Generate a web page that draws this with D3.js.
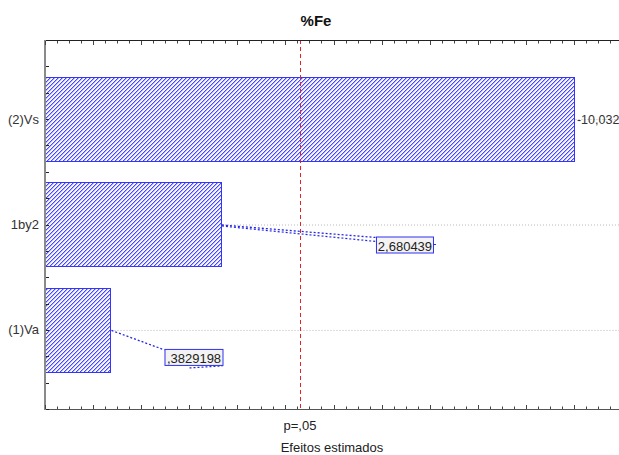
<!DOCTYPE html>
<html>
<head>
<meta charset="utf-8">
<script src="https://cdn.jsdelivr.net/npm/d3@7"></script>
<style>
  html, body { margin: 0; padding: 0; background: #fff; }
  svg { display: block; font-family: "Liberation Sans", Arial, sans-serif; }
</style>
</head>
<body>
<svg id="chart" width="619" height="455"></svg>
<script>
// Standardized effects (Pareto chart), %Fe response
const categories = ["(2)Vs", "1by2", "(1)Va"];
const effects = [-10.032, 2.680439, 0.3829198];
const effectLabels = ["-10,032", "2,680439", ",3829198"];
const pCritical = 4.303;
const pLabel = "p=,05";
const chartTitle = "%Fe";
const xTitle = "Efeitos estimados";

const svg = d3.select("#chart");
const W = 619, H = 455;
const plotLeft = 45, plotRight = 622, plotTop = 40, plotBottom = 409;

const x = d3.scaleLinear().domain([-1, 11]).range([plotLeft, plotRight]);
const y = d3.scaleLinear().domain([-0.75, 2.75]).range([plotTop, plotBottom]);
const barHalf = 0.4;

// Pixel hatch pattern for the bars (diagonal "/" stripes)
const defs = svg.append("defs");
const pat = defs.append("pattern")
  .attr("id", "hatch").attr("patternUnits", "userSpaceOnUse")
  .attr("width", 4).attr("height", 4);
pat.append("rect").attr("width", 4).attr("height", 4).attr("fill", "#f6f6ff");
const hatchPix = [];
for (let r = 0; r < 4; r++) {
  hatchPix.push({ px: 3 - r, py: r, c: "#4646ff" });
  hatchPix.push({ px: (4 - r) % 4, py: r, c: "#b4b4ff" });
}
pat.selectAll("rect.px").data(hatchPix).join("rect")
  .attr("class", "px")
  .attr("x", d => d.px).attr("y", d => d.py).attr("width", 1).attr("height", 1)
  .attr("fill", d => d.c).attr("shape-rendering", "crispEdges");

defs.append("clipPath").attr("id", "plotClip")
  .append("rect").attr("x", plotLeft).attr("y", plotTop - 1)
  .attr("width", W - plotLeft).attr("height", plotBottom - plotTop + 2);

// Title
svg.append("text").attr("x", 316).attr("y", 26)
  .attr("text-anchor", "middle").attr("font-weight", "bold").attr("font-size", 15)
  .attr("fill", "#111").text(chartTitle);

const plot = svg.append("g").attr("clip-path", "url(#plotClip)");

// Dotted reference lines at each category, from bar end to the right edge
plot.selectAll("line.grid").data(categories).join("line")
  .attr("class", "grid")
  .attr("x1", (d, i) => x(Math.abs(effects[i])))
  .attr("x2", plotRight)
  .attr("y1", (d, i) => y(i) + 0.5).attr("y2", (d, i) => y(i) + 0.5)
  .attr("stroke", "#b8b8b8").attr("stroke-width", 1).attr("stroke-dasharray", "1,2");

// Bars (absolute effect size)
plot.selectAll("rect.bar").data(categories).join("rect")
  .attr("class", "bar")
  .attr("x", plotLeft + 0.5)
  .attr("y", (d, i) => Math.round(y(i - barHalf)) + 0.5)
  .attr("width", (d, i) => Math.round(x(Math.abs(effects[i])) - plotLeft - 1))
  .attr("height", (d, i) => Math.round(y(i + barHalf) - y(i - barHalf)))
  .attr("fill", "url(#hatch)")
  .attr("stroke", "#3535f5").attr("stroke-width", 1);

// Critical value line
plot.append("line")
  .attr("x1", Math.round(x(pCritical)) + 0.5).attr("x2", Math.round(x(pCritical)) + 0.5)
  .attr("y1", plotTop).attr("y2", plotBottom)
  .attr("stroke", "#e8202a").attr("stroke-width", 1).attr("stroke-dasharray", "4,3");

// Frame / axes
const axisG = svg.append("g");
axisG.append("line").attr("x1", plotLeft).attr("x2", W).attr("y1", plotTop + 0.5).attr("y2", plotTop + 0.5)
  .attr("stroke", "#222").attr("stroke-width", 1);
axisG.append("line").attr("x1", plotLeft).attr("x2", W).attr("y1", plotBottom + 0.5).attr("y2", plotBottom + 0.5)
  .attr("stroke", "#555").attr("stroke-width", 1.2);
axisG.append("line").attr("x1", plotLeft).attr("x2", plotLeft).attr("y1", plotTop).attr("y2", plotBottom + 1)
  .attr("stroke", "#8a8a8a").attr("stroke-width", 2);

// X ticks: majors at integers, minors at quarters (inward, top and bottom)
const xTicks = d3.range(-1, 11.001, 0.25);
axisG.selectAll("line.xtb").data(xTicks).join("line")
  .attr("class", "xtb")
  .attr("x1", d => Math.round(x(d)) + 0.5).attr("x2", d => Math.round(x(d)) + 0.5)
  .attr("y1", plotBottom).attr("y2", d => plotBottom - (Number.isInteger(d) ? 4 : 2.5))
  .attr("stroke", "#444").attr("stroke-width", 1);
axisG.selectAll("line.xtt").data(xTicks).join("line")
  .attr("class", "xtt")
  .attr("x1", d => Math.round(x(d)) + 0.5).attr("x2", d => Math.round(x(d)) + 0.5)
  .attr("y1", plotTop + 1).attr("y2", d => plotTop + 1 + (Number.isInteger(d) ? 4 : 2.5))
  .attr("stroke", "#444").attr("stroke-width", 1);

// Y ticks at quarter steps
const yTicks = d3.range(-0.5, 2.751, 0.25);
axisG.selectAll("line.yt").data(yTicks).join("line")
  .attr("class", "yt")
  .attr("x1", plotLeft + 1).attr("x2", plotLeft + 4)
  .attr("y1", d => Math.round(y(d)) + 0.5).attr("y2", d => Math.round(y(d)) + 0.5)
  .attr("stroke", "#222").attr("stroke-width", 1);

// Category labels
svg.selectAll("text.cat").data(categories).join("text")
  .attr("class", "cat")
  .attr("x", 39).attr("y", (d, i) => y(i) + 4.5)
  .attr("text-anchor", "end").attr("font-size", 13).attr("fill", "#333")
  .text(d => d);

// Value labels
// (2)Vs: plain text right of the bar
svg.append("text")
  .attr("x", x(Math.abs(effects[0])) + 1.5).attr("y", y(0) + 5)
  .attr("font-size", 12.5).attr("fill", "#333")
  .text(effectLabels[0]);

// Boxed labels with dotted leaders for the other effects
const boxed = [
  { i: 1, dx: 154, dy: 12, w: 57, h: 14 },
  { i: 2, dx: 53, dy: 19, w: 58, h: 14 }
];
boxed.forEach(b => {
  const x0 = x(Math.abs(effects[b.i]));
  const y0 = y(b.i);
  const bx = x0 + b.dx, by = y0 + b.dy;
  const g = svg.append("g");
  g.append("line").attr("x1", x0).attr("y1", y0 + 0.5).attr("x2", bx).attr("y2", by + 1)
    .attr("stroke", "#2626e8").attr("stroke-width", 1.3).attr("stroke-dasharray", "2,2");
  if (b.i === 1) {
    g.append("line").attr("x1", x0).attr("y1", y0 + 1.5).attr("x2", bx).attr("y2", by + 5)
      .attr("stroke", "#2626e8").attr("stroke-width", 1.2).attr("stroke-dasharray", "2,2");
    g.append("line").attr("x1", bx + b.w).attr("x2", bx + b.w + 3)
      .attr("y1", by + b.h / 2 + 1).attr("y2", by + b.h / 2 + 1)
      .attr("stroke", "#2626e8").attr("stroke-width", 1);
  } else {
    g.append("line").attr("x1", bx + 25).attr("y1", by + b.h + 5).attr("x2", bx + b.w).attr("y2", by + b.h + 3)
      .attr("stroke", "#2626e8").attr("stroke-width", 1.2).attr("stroke-dasharray", "2,2");
  }
  g.append("rect").attr("x", bx + 0.5).attr("y", by + 0.5).attr("width", b.w).attr("height", b.h + 2)
    .attr("fill", "#f3f3f3").attr("stroke", "#3030f0").attr("stroke-width", 1);
  g.append("text").attr("x", bx + b.w / 2 + 0.5).attr("y", by + b.h)
    .attr("text-anchor", "middle").attr("font-size", 13).attr("fill", "#222")
    .text(effectLabels[b.i]);
});

// Critical value label and axis title
svg.append("text").attr("x", x(pCritical)).attr("y", 430)
  .attr("text-anchor", "middle").attr("font-size", 13).attr("fill", "#222").text(pLabel);
svg.append("text").attr("x", 332).attr("y", 452)
  .attr("text-anchor", "middle").attr("font-size", 13).attr("fill", "#222").text(xTitle);
</script>
</body>
</html>
